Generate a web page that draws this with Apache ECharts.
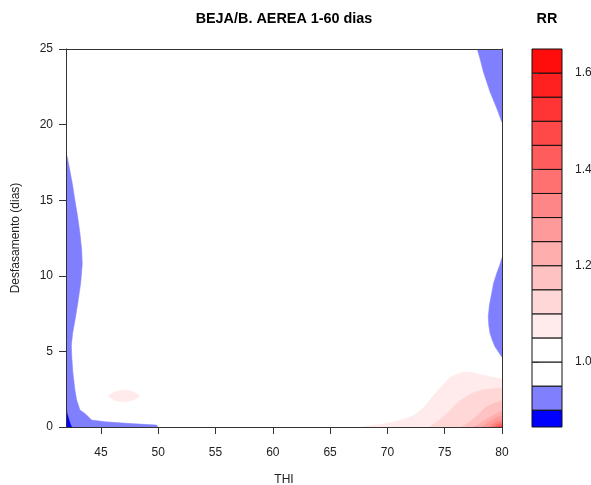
<!DOCTYPE html>
<html>
<head>
<meta charset="utf-8">
<script src="https://cdn.jsdelivr.net/npm/echarts@6/dist/echarts.min.js"></script>
<style>
  html, body { margin: 0; padding: 0; background: #ffffff; }
  #chart { width: 591px; height: 485px; }
</style>
</head>
<body>
<div id="chart"></div>
<script>
// Relative risk (RR) surface over THI and lag: filled contour regions
// given as [THI, lag] outlines, one array per contour level.

const thiRange = [41.95, 80];
const lagRange = [0, 25];
const thiTicks = [45, 50, 55, 60, 65, 70, 75, 80];
const lagTicks = [0, 5, 10, 15, 20, 25];
const keyTicks = [1.0, 1.2, 1.4, 1.6];

// RR break points of the colour key (bottom to top)
const levels = [0.865, 0.9, 0.95, 1.0, 1.05, 1.1, 1.15, 1.2, 1.25, 1.3,
                1.35, 1.4, 1.45, 1.5, 1.55, 1.6, 1.65];

// RR < 0.95 along the cold edge
const rrBelow095Left = [
  [41.95, 18.0], [42.06, 17.88], [42.23, 17.2], [42.5, 16.1], [42.73, 15.0],
  [42.97, 13.9], [43.17, 12.8], [43.32, 11.7], [43.37, 10.8], [43.23, 9.5],
  [43.02, 8.4], [42.79, 7.3], [42.53, 6.2], [42.42, 5.4], [42.46, 4.6],
  [42.55, 3.6], [42.73, 2.45], [42.88, 1.79], [43.17, 1.12], [43.6, 0.9],
  [43.87, 0.7], [44.19, 0.46], [45.35, 0.35], [47.24, 0.24], [49.86, 0.13],
  [49.97, 0], [41.95, 0]
];
// RR < 0.90 in the coldest corner
const rrBelow090Left = [
  [41.95, 1.3], [42.05, 0.9], [42.2, 0.5], [42.35, 0.15], [42.45, 0], [41.95, 0]
];
// RR < 0.95 at the hot edge, long lags
const rrBelow095TopRight = [
  [77.84, 25], [78.1, 24.3], [78.37, 23.5], [78.95, 22.18], [79.54, 21.08],
  [79.97, 20.2], [80, 20.15], [80, 25]
];
// RR < 0.95 at the hot edge, medium lags
const rrBelow095MidRight = [
  [80, 11.2], [79.8, 10.7], [79.54, 10.17], [79.26, 9.5], [79.1, 8.84],
  [78.9, 8.05], [78.8, 7.3], [78.85, 6.7], [78.95, 6.2], [79.17, 5.7],
  [79.39, 5.31], [79.7, 4.96], [79.97, 4.65], [80, 4.63]
];
// RR > 1.05 small island at cool temperatures
const rrAbove105Island = [
  [45.64, 2.05], [46.2, 2.33], [47.0, 2.45], [47.8, 2.35], [48.4, 2.05],
  [47.8, 1.76], [47.0, 1.67], [46.2, 1.74]
];
// RR above each level at high THI, short lags
const rrAbove105 = [
  [67.7, 0], [68.5, 0.08], [69.8, 0.22], [71.0, 0.42], [72.4, 0.8], [73.2, 1.3],
  [74.0, 2.07], [74.8, 2.75], [75.5, 3.3], [76.5, 3.62], [77.3, 3.63],
  [78.1, 3.47], [79.0, 3.32], [80, 3.17], [80, 0]
];
const rrAbove110 = [
  [73.7, 0], [74.6, 0.5], [75.5, 1.12], [76.1, 1.6], [76.8, 1.98], [77.5, 2.27],
  [78.3, 2.45], [79.2, 2.55], [80, 2.58], [80, 0]
];
const rrAbove115 = [
  [76.5, 0], [77.1, 0.3], [77.6, 0.6], [78.1, 0.95], [78.5, 1.26], [79.2, 1.55],
  [80, 1.72], [80, 0]
];
const rrAbove120 = [[77.55, 0], [78.2, 0.3], [78.9, 0.62], [79.5, 0.9], [80, 1.06], [80, 0]];
const rrAbove125 = [[78.25, 0], [78.8, 0.3], [79.35, 0.58], [80, 0.74], [80, 0]];
const rrAbove130 = [[78.8, 0], [79.4, 0.3], [80, 0.47], [80, 0]];
const rrAbove135 = [[79.15, 0], [79.6, 0.2], [80, 0.3], [80, 0]];
const rrAbove140 = [[79.45, 0], [80, 0.17], [80, 0]];
const rrAbove145 = [[79.7, 0], [80, 0.08], [80, 0]];

// Colours: blue ramp below 1, white around 1, white-to-red ramp above
function binColor(i) {
  const lo = levels[i];
  if (lo < 0.9 - 1e-9) return '#0000FF';
  if (lo < 0.95 - 1e-9) return '#8080FF';
  if (lo < 1.05 - 1e-9) return '#FFFFFF';
  const k = Math.round((lo - 1.0) / 0.05); // 1..12
  const g = Math.round(255 * (1 - k / 12.6));
  const h = g.toString(16).padStart(2, '0').toUpperCase();
  return '#FF' + h + h;
}
function colorFor(level) {
  return binColor(levels.findIndex(l => Math.abs(l - level) < 1e-9));
}

const regions = [
  { pts: rrBelow095Left, color: colorFor(0.9) },
  { pts: rrBelow090Left, color: colorFor(0.865) },
  { pts: rrBelow095TopRight, color: colorFor(0.9) },
  { pts: rrBelow095MidRight, color: colorFor(0.9) },
  { pts: rrAbove105Island, color: colorFor(1.05) },
  { pts: rrAbove105, color: colorFor(1.05) },
  { pts: rrAbove110, color: colorFor(1.1) },
  { pts: rrAbove115, color: colorFor(1.15) },
  { pts: rrAbove120, color: colorFor(1.2) },
  { pts: rrAbove125, color: colorFor(1.25) },
  { pts: rrAbove130, color: colorFor(1.3) },
  { pts: rrAbove135, color: colorFor(1.35) },
  { pts: rrAbove140, color: colorFor(1.4) },
  { pts: rrAbove145, color: colorFor(1.45) }
];

const keyBins = levels.slice(0, -1).map((lo, i) => [0, lo, levels[i + 1], i]);

const FONT = '"Liberation Sans", Arial, Helvetica, sans-serif';
const INK = '#222';
const LINE = '#333';

const chart = echarts.init(document.getElementById('chart'), null, { renderer: 'canvas' });

const plainAxis = {
  axisTick: { show: false },
  axisLabel: { show: false },
  splitLine: { show: false },
  axisLine: { show: true, onZero: false, lineStyle: { color: LINE, width: 1 } },
  z: 10
};

chart.setOption({
  animation: false,
  backgroundColor: '#ffffff',
  grid: [
    { left: 66, top: 49, width: 436, height: 378, outerBoundsMode: 'none', containLabel: false },
    { left: 532, top: 49, width: 30, height: 378, outerBoundsMode: 'none', containLabel: false }
  ],
  xAxis: [
    {
      type: 'value', gridIndex: 0, min: thiRange[0], max: thiRange[1], position: 'bottom',
      axisLine: { show: true, onZero: false, lineStyle: { color: LINE, width: 1 } },
      axisTick: { show: true, inside: false, length: 7, customValues: thiTicks,
                  lineStyle: { color: LINE, width: 1 } },
      axisLabel: { show: true, customValues: thiTicks, margin: 20, color: INK,
                   fontSize: 12, fontFamily: FONT },
      splitLine: { show: false },
      z: 10
    },
    Object.assign({ type: 'value', gridIndex: 0, min: thiRange[0], max: thiRange[1],
                    position: 'top' }, plainAxis),
    { type: 'value', gridIndex: 1, min: 0, max: 1, show: false }
  ],
  yAxis: [
    {
      type: 'value', gridIndex: 0, min: lagRange[0], max: lagRange[1], interval: 5,
      position: 'left',
      axisLine: { show: true, onZero: false, lineStyle: { color: LINE, width: 1 } },
      axisTick: { show: true, inside: false, length: 7, customValues: lagTicks,
                  lineStyle: { color: LINE, width: 1 } },
      axisLabel: { show: true, customValues: lagTicks, margin: 13, color: INK,
                   fontSize: 12, fontFamily: FONT },
      splitLine: { show: false },
      z: 10
    },
    Object.assign({ type: 'value', gridIndex: 0, min: lagRange[0], max: lagRange[1],
                    position: 'right' }, plainAxis),
    {
      type: 'value', gridIndex: 1, min: levels[0], max: levels[levels.length - 1],
      position: 'right',
      axisLine: { show: false },
      axisTick: { show: true, inside: false, length: 7, customValues: keyTicks,
                  lineStyle: { color: LINE, width: 1 } },
      axisLabel: { show: true, customValues: keyTicks, margin: 13, color: INK,
                   fontSize: 12, fontFamily: FONT,
                   formatter: v => Number(v).toFixed(1) },
      splitLine: { show: false },
      z: 10
    }
  ],
  series: [
    {
      type: 'custom',
      xAxisIndex: 0,
      yAxisIndex: 0,
      clip: true,
      silent: true,
      data: regions.map(r => r.pts[0]),
      renderItem: function (params, api) {
        const r = regions[params.dataIndex];
        return {
          type: 'polygon',
          shape: { points: r.pts.map(p => api.coord(p)) },
          style: { fill: r.color, stroke: r.color, lineWidth: 0.5 }
        };
      }
    },
    {
      type: 'custom',
      xAxisIndex: 2,
      yAxisIndex: 2,
      silent: true,
      data: keyBins,
      renderItem: function (params, api) {
        const b = keyBins[params.dataIndex];
        const p0 = api.coord([0, b[1]]);
        const p1 = api.coord([1, b[2]]);
        return {
          type: 'rect',
          shape: { x: p0[0], y: p1[1], width: p1[0] - p0[0], height: p0[1] - p1[1] },
          style: { fill: binColor(b[3]), stroke: '#111', lineWidth: 1 }
        };
      }
    }
  ],
  graphic: [
    { type: 'text', x: 284, y: 19,
      style: { text: 'BEJA/B. AEREA 1-60 dias', fill: '#000', fontSize: 14.4,
               fontWeight: 'bold', fontFamily: FONT, textAlign: 'center',
               textVerticalAlign: 'middle' } },
    { type: 'text', x: 547, y: 19,
      style: { text: 'RR', fill: '#000', fontSize: 14.4, fontWeight: 'bold',
               fontFamily: FONT, textAlign: 'center', textVerticalAlign: 'middle' } },
    { type: 'text', x: 284, y: 480,
      style: { text: 'THI', fill: INK, fontSize: 12, fontFamily: FONT,
               textAlign: 'center', textVerticalAlign: 'middle' } },
    { type: 'text', x: 16, y: 238, rotation: Math.PI / 2,
      style: { text: 'Desfasamento (dias)', fill: INK, fontSize: 12, fontFamily: FONT,
               textAlign: 'center', textVerticalAlign: 'middle' } }
  ]
});
</script>
</body>
</html>
